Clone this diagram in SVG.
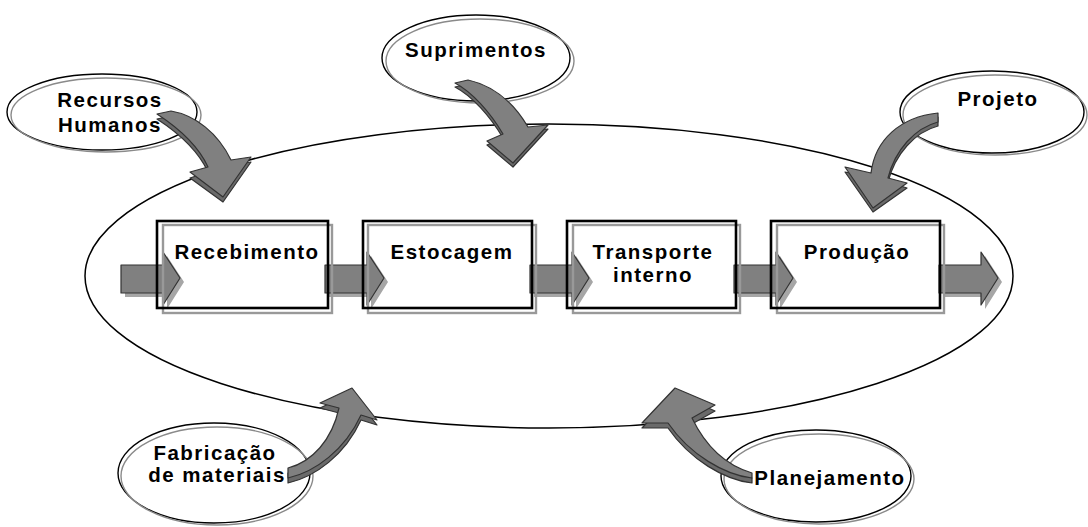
<svg xmlns="http://www.w3.org/2000/svg" width="1088" height="527" viewBox="0 0 1088 527">
<style>
.bg{fill:#fff}
.loop{fill:none;stroke:#000;stroke-width:1.5}
.eo{fill:#fff;stroke:#000;stroke-width:1.4}
.ei{fill:none;stroke:#8a8a8a;stroke-width:1.4}
.bo{fill:none;stroke:#000;stroke-width:2.6}
.bi{fill:none;stroke:#999;stroke-width:2.4}
.bf{fill:#fff;stroke:none}
.ar{fill:#808080;stroke:#333;stroke-width:1.2;stroke-linejoin:round}
.as{fill:#a6a6a6;stroke:none}
.ad{fill:#6a6a6a;stroke:#333;stroke-width:1.2;stroke-linejoin:round}
.t{font-family:"Liberation Sans",Arial,sans-serif;font-weight:bold;font-size:20.5px;letter-spacing:1.5px;text-anchor:middle;fill:#000}
</style>
<defs>
<path id="sa" d="M0,13 L42,13 L42,0 L59,26 L42,53 L42,41 L0,41 Z"/>
</defs>
<rect class="bg" x="0" y="0" width="1088" height="527"/>
<g id="loop"><ellipse class="loop" cx="549" cy="276" rx="464" ry="152"/></g>

<g id="n-recursos">
<ellipse class="eo" cx="102" cy="112" rx="95" ry="38"/>
<ellipse class="ei" cx="106" cy="115" rx="95" ry="37"/>
<text class="t" x="110" y="107">Recursos</text>
<text class="t" x="110" y="132">Humanos</text>
</g>
<g id="n-suprimentos">
<ellipse class="eo" cx="476" cy="58" rx="94" ry="43"/>
<ellipse class="ei" cx="480" cy="61" rx="94" ry="42"/>
<text class="t" x="476" y="57">Suprimentos</text>
</g>
<g id="n-projeto">
<ellipse class="eo" cx="992" cy="112" rx="92" ry="41"/>
<ellipse class="ei" cx="995" cy="115" rx="92" ry="40"/>
<text class="t" x="998" y="106">Projeto</text>
</g>
<g id="n-fabricacao">
<ellipse class="eo" cx="214" cy="473" rx="96" ry="50"/>
<ellipse class="ei" cx="217" cy="476" rx="96" ry="49"/>
<text class="t" x="215" y="460">Fabricação</text>
<text class="t" x="217" y="482">de materiais</text>
</g>
<g id="n-planejamento">
<ellipse class="eo" cx="816" cy="476" rx="95" ry="46"/>
<ellipse class="ei" cx="819" cy="479" rx="95" ry="45"/>
<text class="t" x="830" y="485">Planejamento</text>
</g>

<g id="box-fills">
<rect class="bf" x="157" y="221" width="171" height="87"/>
<rect class="bf" x="363" y="221" width="169" height="87"/>
<rect class="bf" x="567" y="221" width="169" height="87"/>
<rect class="bf" x="771" y="221" width="169" height="87"/>
</g>

<g id="connectors">
<g transform="translate(121,252)"><use href="#sa" class="as" x="4" y="4"/><use href="#sa" class="ar"/></g>
<g transform="translate(325,252)"><use href="#sa" class="as" x="4" y="4"/><use href="#sa" class="ar"/></g>
<g transform="translate(530,252)"><use href="#sa" class="as" x="4" y="4"/><use href="#sa" class="ar"/></g>
<g transform="translate(734,252)"><use href="#sa" class="as" x="4" y="4"/><use href="#sa" class="ar"/></g>
<g transform="translate(939,252)"><use href="#sa" class="as" x="4" y="4"/><use href="#sa" class="ar"/></g>

<path class="ad" d="M157,119 L171,116 C195,120 218,138 231,165 L251,162 L223,202 L190,178 L208,172 C198,150 180,134 157,119 Z"/>
<path class="ar" d="M157,114 L171,111 C195,115 218,133 231,160 L251,157 L223,197 L190,172 L208,167 C198,145 180,129 157,114 Z"/>

<path class="ad" d="M455,87 L468,84 C495,90 515,109 528,131 L548,129 L513,167 L487,145 L503,138 C490,116 472,96 455,87 Z"/>
<path class="ar" d="M455,83 L468,80 C495,86 515,105 528,127 L548,125 L513,163 L487,141 L503,134 C490,112 472,92 455,83 Z"/>

<path class="ad" d="M938,117 L938,126 C915,132 895,154 888,182 L907,188 L873,212 L845,172 L871,177 C875,145 900,121 938,117 Z"/>
<path class="ar" d="M938,113 L938,122 C915,128 895,150 888,178 L907,183 L873,208 L845,167 L871,173 C875,140 900,117 938,113 Z"/>

<path class="ad" d="M288,473 L288,483 C315,477 345,455 361,420 L377,425 L352,393 L320,408 L339,413 C332,445 312,467 288,473 Z"/>
<path class="ar" d="M288,468 L288,478 C315,472 345,450 361,415 L377,420 L352,388 L320,403 L339,408 C332,440 312,462 288,468 Z"/>

<path class="ad" d="M752,478 L752,483 C725,480 690,460 668,428 L642,428 L675,393 L715,411 L692,424 C705,450 725,470 752,478 Z"/>
<path class="ar" d="M752,473 L752,478 C725,475 690,455 668,423 L642,423 L675,388 L715,405 L692,418 C705,445 725,465 752,473 Z"/>
</g>

<g id="recebimento">
<rect class="bi" x="163" y="225" width="169" height="88"/>
<rect class="bo" x="157" y="221" width="171" height="87"/>
<text class="t" x="247" y="259">Recebimento</text>
</g>
<g id="estocagem">
<rect class="bi" x="368" y="225" width="168" height="88"/>
<rect class="bo" x="363" y="221" width="169" height="87"/>
<text class="t" x="452" y="259">Estocagem</text>
</g>
<g id="transporte">
<rect class="bi" x="573" y="225" width="167" height="88"/>
<rect class="bo" x="567" y="221" width="169" height="87"/>
<text class="t" x="653" y="259">Transporte</text>
<text class="t" x="653" y="282">interno</text>
</g>
<g id="producao">
<rect class="bi" x="777" y="225" width="167" height="88"/>
<rect class="bo" x="771" y="221" width="169" height="87"/>
<text class="t" x="857" y="259">Produção</text>
</g>
</svg>
